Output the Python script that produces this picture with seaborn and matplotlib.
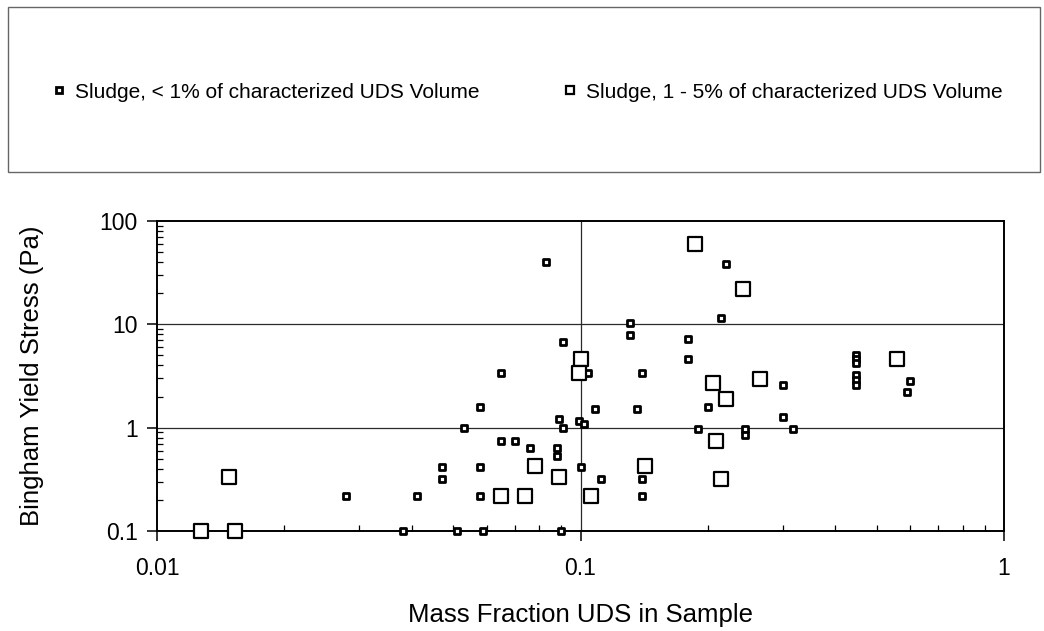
import matplotlib
matplotlib.use("Agg")
import matplotlib.pyplot as plt
from matplotlib.lines import Line2D
from matplotlib.patches import Rectangle
from matplotlib.ticker import FixedLocator, LogLocator, FuncFormatter, NullFormatter
import seaborn as sns
import pandas as pd

# Series 1: Sludge, < 1% of characterized UDS Volume (small squares)
small_x = [0.083, 0.091, 0.065, 0.104, 0.058, 0.108, 0.053, 0.089, 0.091, 0.099,
           0.102, 0.065, 0.070, 0.076, 0.088, 0.088, 0.047, 0.047, 0.058, 0.100,
           0.112, 0.028, 0.041, 0.058, 0.038, 0.051, 0.059, 0.090,
           0.220, 0.215, 0.131, 0.131, 0.179, 0.179, 0.140, 0.300, 0.136, 0.200,
           0.189, 0.245, 0.245, 0.300, 0.317, 0.448, 0.448, 0.448, 0.448, 0.448,
           0.448, 0.600, 0.590, 0.140, 0.140]
small_y = [40, 6.8, 3.4, 3.4, 1.6, 1.5, 1.0, 1.2, 1.0, 1.15,
           1.08, 0.75, 0.75, 0.63, 0.63, 0.53, 0.42, 0.32, 0.42, 0.42,
           0.32, 0.22, 0.22, 0.22, 0.1, 0.1, 0.1, 0.1,
           38, 11.5, 10.2, 7.8, 7.2, 4.6, 3.4, 2.6, 1.5, 1.6,
           0.97, 0.98, 0.85, 1.27, 0.97, 5.0, 4.6, 4.2, 3.2, 2.9,
           2.6, 2.8, 2.2, 0.32, 0.22]

# Series 2: Sludge, 1 - 5% of characterized UDS Volume (large squares)
large_x = [0.0127, 0.0153, 0.0148, 0.100, 0.099, 0.078, 0.089, 0.065, 0.074, 0.106,
           0.186, 0.242, 0.560, 0.266, 0.205, 0.221, 0.209, 0.142, 0.215]
large_y = [0.1, 0.1, 0.33, 4.6, 3.4, 0.43, 0.33, 0.22, 0.22, 0.22,
           60, 22, 4.6, 2.95, 2.7, 1.9, 0.75, 0.43, 0.32]

series_labels = ["Sludge, < 1% of characterized UDS Volume",
                 "Sludge, 1 - 5% of characterized UDS Volume"]
x_ticks = [0.01, 0.1, 1]
y_ticks = [0.1, 1, 10, 100]
x_title = "Mass Fraction UDS in Sample"
y_title = "Bingham Yield Stress (Pa)"

sns.set_style("white")
plt.rcParams['font.family'] = ['Liberation Sans', 'DejaVu Sans']
plt.rcParams['text.color'] = 'black'
plt.rcParams['axes.labelcolor'] = 'black'

W, H = 1044, 631
fig = plt.figure(figsize=(W / 100, H / 100), dpi=100)
L, R, T, B = 157, 1004, 221, 531
ax = fig.add_axes([L / W, 1 - B / H, (R - L) / W, (B - T) / H])

df_small = pd.DataFrame({"x": small_x, "y": small_y})
df_large = pd.DataFrame({"x": large_x, "y": large_y})

ax.set_xscale("log")
ax.set_yscale("log")
ax.set_xlim(0.01, 1)
ax.set_ylim(0.1, 100)

# grid lines (major only)
for v in x_ticks[1:-1]:
    ax.axvline(v, color="#2a2a2a", lw=0.9, zorder=1)
for v in y_ticks[1:-1]:
    ax.axhline(v, color="#2a2a2a", lw=0.9, zorder=1)

sns.scatterplot(data=df_small, x="x", y="y", ax=ax, marker="s", s=16,
                color="white", edgecolor="black", linewidth=2.0,
                clip_on=False, zorder=3, legend=False)
sns.scatterplot(data=df_large, x="x", y="y", ax=ax, marker="s", s=100,
                color="white", edgecolor="black", linewidth=1.6,
                clip_on=False, zorder=3, legend=False)

ax.xaxis.set_major_locator(FixedLocator(x_ticks))
ax.yaxis.set_major_locator(FixedLocator(y_ticks))
ax.xaxis.set_minor_locator(LogLocator(base=10, subs=range(2, 10)))
ax.yaxis.set_minor_locator(LogLocator(base=10, subs=range(2, 10)))
fmt = FuncFormatter(lambda v, p: f"{v:g}")
ax.xaxis.set_major_formatter(fmt)
ax.yaxis.set_major_formatter(fmt)
ax.xaxis.set_minor_formatter(NullFormatter())
ax.yaxis.set_minor_formatter(NullFormatter())

ax.tick_params(which="both", bottom=True, left=True, top=False, right=False)
ax.tick_params(which="major", direction="out", length=7, width=1.1, color="black",
               labelsize=16.5, labelcolor="black")
ax.tick_params(axis="y", which="major", pad=7)
ax.tick_params(axis="x", which="major", pad=12)
ax.tick_params(which="minor", direction="in", length=4, width=0.9, color="black")

for sp in ax.spines.values():
    sp.set_visible(True)
    sp.set_color("black")
    sp.set_linewidth(1.4)

ax.set_xlabel(x_title, fontsize=18.5, color="black")
ax.set_ylabel(y_title, fontsize=18.5, color="black")
ax.yaxis.label.set_va("center")
ax.yaxis.set_label_coords((32 - L) / (R - L), 0.5)
ax.xaxis.label.set_va("center")
ax.xaxis.set_label_coords(0.5, -(615 - B) / (B - T))

# legend box across the top
fig.add_artist(Rectangle((8 / W, 1 - 172 / H), (1040 - 8) / W, (172 - 7) / H,
                         transform=fig.transFigure, fill=False,
                         edgecolor="#666666", lw=1.0))
h1 = Line2D([], [], ls="none", marker="s", ms=4.0, mfc="white", mec="black", mew=2.0)
h2 = Line2D([], [], ls="none", marker="s", ms=5.5, mfc="white", mec="black", mew=1.6)
leg1 = fig.legend([h1], [series_labels[0]], loc="center left",
                  bbox_to_anchor=(40 / W, 1 - 92 / H), frameon=False,
                  fontsize=15, handlelength=0.8, handletextpad=0.4, borderpad=0)
leg2 = fig.legend([h2], [series_labels[1]], loc="center left",
                  bbox_to_anchor=(551 / W, 1 - 92 / H), frameon=False,
                  fontsize=15, handlelength=0.8, handletextpad=0.4, borderpad=0)

fig.savefig("out.png", dpi=100, facecolor="white")
